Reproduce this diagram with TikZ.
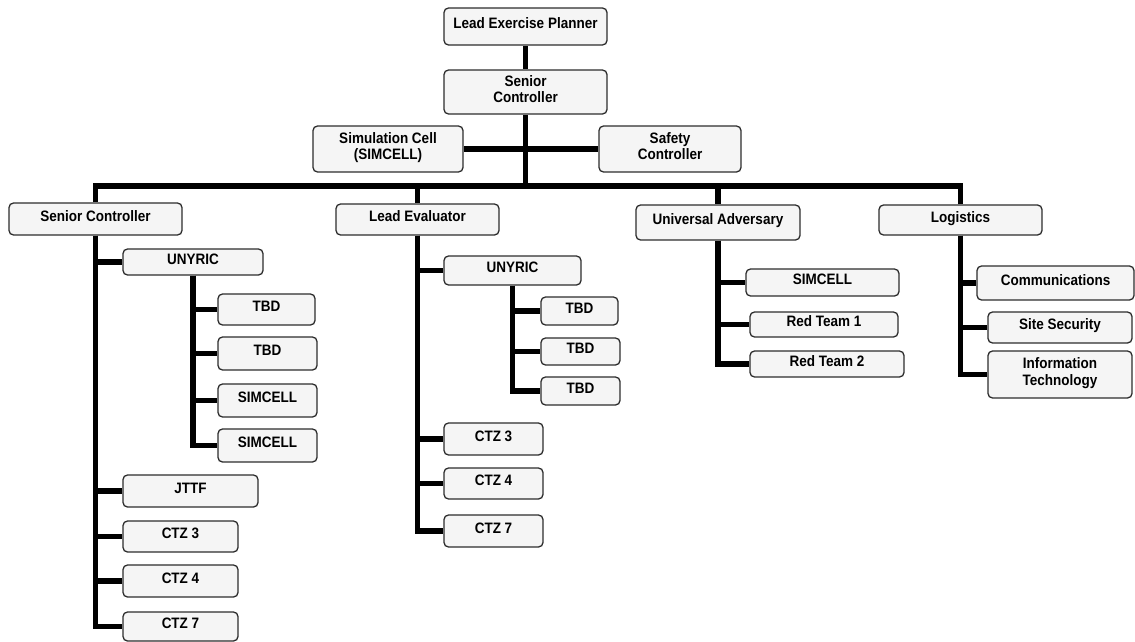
\documentclass[tikz,border=0pt]{standalone}
\usepackage{fontspec}
\setmainfont{Liberation Sans}
\usetikzlibrary{calc}
\pgfdeclarelayer{background}
\pgfsetlayers{background,main}
\definecolor{boxfill}{RGB}{245,245,245}
\definecolor{boxline}{RGB}{45,45,45}
\tikzset{
  unit/.style={box, inner sep=0pt, align=center, text depth=5.5pt,
    yscale=1.12, transform shape},
  box/.style={draw=boxline, line width=1.3pt, rounded corners=4.5pt, fill=boxfill,
    font=\bfseries\fontsize{13.5}{14.5}\selectfont},
  conn/.style={line width=5.5pt, black},
}
% a box of width #4 and height #5 centred on (#2,#3), with a slightly tall typeface
\newcommand{\unitbox}[6]{%
  \pgfmathsetmacro\unith{#5/1.12}%
  \begin{scope}[shift={(#2,#3)}]
    \node[unit, minimum width=#4pt, minimum height=\unith pt] (#1) at (0,0) {#6};
  \end{scope}}
\begin{document}
\begin{tikzpicture}[x=1pt,y=-1pt]
\useasboundingbox (0,0) rectangle (1135,642);
% top of the chart
\unitbox{lep}{525.5}{26.5}{163}{37}{Lead Exercise Planner}
\unitbox{sc}{525.5}{92}{163}{44}{Senior\\Controller}
\unitbox{sim}{388}{149}{150}{46}{Simulation Cell\\(SIMCELL)}
\unitbox{saf}{670}{149}{142}{46}{Safety\\Controller}
% four sections
\unitbox{c1}{95.5}{219}{173}{32}{Senior Controller}
\unitbox{c2}{417.5}{219.5}{163}{31}{Lead Evaluator}
\unitbox{c3}{718}{222.5}{164}{35}{Universal Adversary}
\unitbox{c4}{960.5}{220}{163}{30}{Logistics}
% senior controller section
\unitbox{auny}{193}{262}{140}{26}{UNYRIC}
\unitbox{at1}{266.5}{309.5}{97}{31}{TBD}
\unitbox{at2}{267.5}{353.5}{99}{33}{TBD}
\unitbox{as1}{267.5}{400.5}{99}{33}{SIMCELL}
\unitbox{as2}{267.5}{445.5}{99}{33}{SIMCELL}
\unitbox{aj}{190.5}{491}{135}{32}{JTTF}
\unitbox{ac3}{180.5}{536.5}{115}{31}{CTZ 3}
\unitbox{ac4}{180.5}{581}{115}{32}{CTZ 4}
\unitbox{ac7}{180.5}{626.5}{115}{29}{CTZ 7}
% lead evaluator section
\unitbox{buny}{512.5}{270.5}{137}{29}{UNYRIC}
\unitbox{bt1}{579.5}{311}{77}{28}{TBD}
\unitbox{bt2}{580.5}{351.5}{79}{27}{TBD}
\unitbox{bt3}{580.5}{391}{79}{28}{TBD}
\unitbox{bc3}{493.5}{439}{99}{32}{CTZ 3}
\unitbox{bc4}{493.5}{483.5}{99}{31}{CTZ 4}
\unitbox{bc7}{493.5}{531}{99}{32}{CTZ 7}
% universal adversary section
\unitbox{cs}{822.5}{282.5}{153}{27}{SIMCELL}
\unitbox{cr1}{824}{324.5}{148}{25}{Red Team 1}
\unitbox{cr2}{827}{364}{154}{26}{Red Team 2}
% logistics section
\unitbox{dcom}{1055.5}{283}{157}{34}{Communications}
\unitbox{dss}{1060}{327.5}{144}{31}{Site Security}
\unitbox{dit}{1060}{374.5}{144}{47}{Information\\Technology}
% connectors
\coordinate (bus) at (525.5,186);
\begin{pgfonlayer}{background}
\draw[conn] (lep.south) -- (sc.north);
\draw[conn] (sim.east) -- (saf.west);
\draw[conn] (sc.south) -- (bus);
\foreach \c in {c1,c2,c3,c4} \draw[conn] (\c.north) |- (bus);
\foreach \k in {auny,aj,ac3,ac4,ac7} \draw[conn] (c1.south) |- (\k.west);
\foreach \k in {at1,at2,as1,as2} \draw[conn] (auny.south) |- (\k.west);
\foreach \k in {buny,bc3,bc4,bc7} \draw[conn] (c2.south) |- (\k.west);
\foreach \k in {bt1,bt2,bt3} \draw[conn] (buny.south) |- (\k.west);
\foreach \k in {cs,cr1,cr2} \draw[conn] (c3.south) |- (\k.west);
\foreach \k in {dcom,dss,dit} \draw[conn] (c4.south) |- (\k.west);
\end{pgfonlayer}
\end{tikzpicture}
\end{document}
